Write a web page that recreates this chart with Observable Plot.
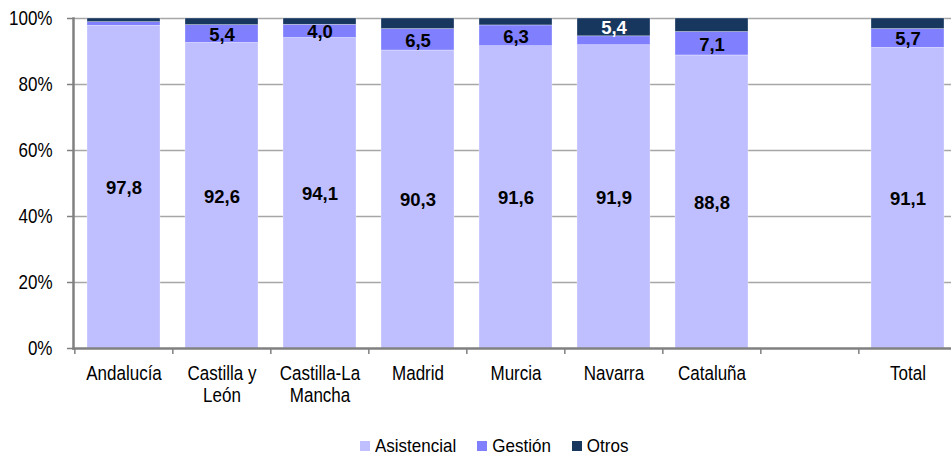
<!DOCTYPE html>
<html>
<head>
<meta charset="utf-8">
<script src="https://cdn.jsdelivr.net/npm/d3@7"></script>
<script src="https://cdn.jsdelivr.net/npm/@observablehq/plot@0.6"></script>
<style>
  body { margin: 0; background: #fff; width: 951px; height: 456px; overflow: hidden; position: relative; }
  #legend { position: absolute; left: 360px; top: 436px; display: flex; align-items: center; line-height: 20px;
    font-family: "Liberation Sans", Arial, sans-serif; font-size: 17px; color: #000; white-space: nowrap; }
  .item { display: flex; align-items: center; margin-right: 21px; }
  .item span { display: inline-block; transform: scaleY(1.12); }
  .sw { width: 10px; height: 10px; margin-right: 5px; }
</style>
</head>
<body>
<div id="chart"></div>
<div id="legend"></div>
<script>
const categories = ["Andalucía", "Castilla y León", "Castilla-La Mancha", "Madrid", "Murcia", "Navarra", "Cataluña", " ", "Total"];
const tickLabels = ["Andalucía", "Castilla y\nLeón", "Castilla-La\nMancha", "Madrid", "Murcia", "Navarra", "Cataluña", "", "Total"];
const series = ["Asistencial", "Gestión", "Otros"];
const colors = ["#BFBFFF", "#8080FF", "#17375E"];
const asistencial = [97.8, 92.6, 94.1, 90.3, 91.6, 91.9, 88.8, null, 91.1];
const gestion     = [1.1, 5.4, 4.0, 6.5, 6.3, 2.7, 7.1, null, 5.7];
const otros       = [1.1, 2.0, 1.9, 3.2, 2.1, 5.4, 4.1, null, 3.2];
const labelMin = {"Asistencial": 0, "Gestión": 3, "Otros": 5};
const yTicks = [0, 0.2, 0.4, 0.6, 0.8, 1];

const values = [asistencial, gestion, otros];
const rows = [];
categories.forEach((c, i) => {
  series.forEach((s, j) => {
    const v = values[j][i];
    if (v != null) rows.push({cat: c, series: s, value: v / 100, raw: v});
  });
});

const fmt = v => v.toFixed(1).replace(".", ",");
const xRange = [73, 958];
const padInner = 0.26, padOuter = 0.13;
const step = (xRange[1] - xRange[0]) / (categories.length - padInner + 2 * padOuter);
const labelFor = (d, dark) => ((d.series === "Otros") === dark && d.raw >= labelMin[d.series]) ? fmt(d.raw) : "";
const stackOpts = {x: "cat", y: "value", z: "series", order: series};
const valueFont = "'Liberation Sans', Arial, sans-serif";
const stretch = 1.17;

const chart = Plot.plot({
  width: 951,
  height: 410,
  marginTop: 18,
  marginBottom: 62,
  marginLeft: 73,
  marginRight: 0,
  style: {fontFamily: "'Liberation Sans', Arial, sans-serif", fontSize: "17px", color: "#000", background: "#fff", overflow: "hidden"},
  x: {type: "band", domain: categories, range: xRange, paddingInner: padInner, paddingOuter: padOuter, label: null},
  y: {domain: [0, 1], label: null},
  color: {domain: series, range: colors},
  marks: [
    Plot.ruleY(yTicks.filter(t => t > 0), {stroke: "#A6A6A6", strokeWidth: 1.5}),
    Plot.barY(rows, Plot.stackY({...stackOpts, fill: "series", stroke: "#fff", strokeOpacity: 0.5, strokeWidth: 0.6})),
    Plot.text(rows, Plot.stackY({...stackOpts, text: d => labelFor(d, false), fill: "#000", fontWeight: "bold", fontSize: 18.5, dy: 1, fontFamily: valueFont})),
    Plot.text(rows, Plot.stackY({...stackOpts, text: d => labelFor(d, true), fill: "#fff", fontWeight: "bold", fontSize: 18.5, dy: 1, fontFamily: valueFont})),
    Plot.axisY({ticks: yTicks, tickFormat: d => Math.round(d * 100) + "%", tickSize: 6, tickPadding: 15, stroke: "#808080", strokeWidth: 1.5, fontSize: 17}),
    Plot.axisX({tickSize: 6, text: null, dx: -step / 2, stroke: "#808080", strokeWidth: 1.5}),
    Plot.axisX({tickSize: 0, tickPadding: 15, tickFormat: (d) => tickLabels[categories.indexOf(d)], lineHeight: 1.14, fontSize: 17}),
    Plot.frame({anchor: "left", stroke: "#808080", strokeWidth: 2.5}),
    Plot.frame({anchor: "bottom", stroke: "#808080", strokeWidth: 2.5})
  ]
});

// stretch axis tick labels vertically around their own anchor point
const isNum = v => v != null && /^\s*-?[\d.]+\s*$/.test(v);
chart.querySelectorAll('g[aria-label="x-axis tick label"] text, g[aria-label="y-axis tick label"] text').forEach(t => {
  const tr = t.getAttribute("transform") || "";
  const yAttr = t.getAttribute("y");
  const y0 = isNum(yAttr) ? +yAttr : 0;
  t.setAttribute("transform", `${tr} translate(0,${y0 * (1 - stretch)}) scale(1,${stretch})`);
});
document.getElementById("chart").appendChild(chart);

const legend = document.getElementById("legend");
series.forEach((s, i) => {
  const item = document.createElement("div");
  item.className = "item";
  const sw = document.createElement("div");
  sw.className = "sw";
  sw.style.background = colors[i];
  const t = document.createElement("span");
  t.textContent = s;
  item.appendChild(sw);
  item.appendChild(t);
  legend.appendChild(item);
});
</script>
</body>
</html>
